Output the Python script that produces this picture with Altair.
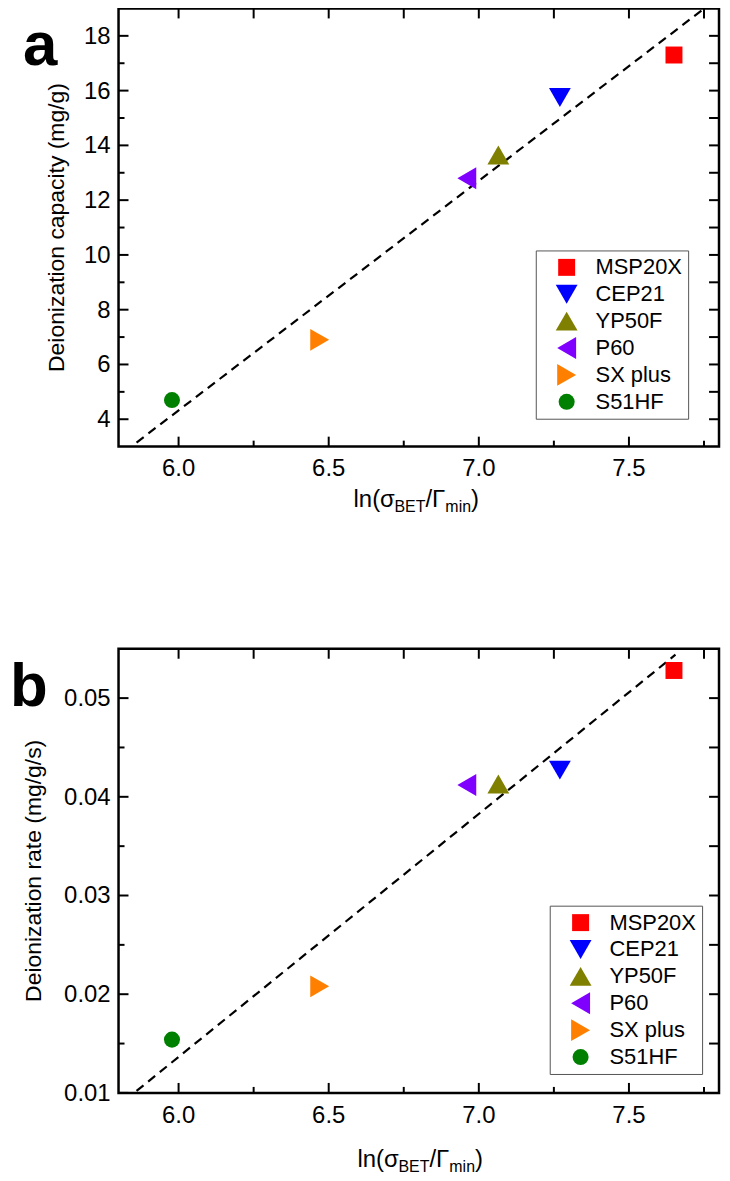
import altair as alt
import pandas as pd

FONT = "Liberation Sans"

# ---- data ----
names = ["MSP20X", "CEP21", "YP50F", "P60", "SX plus", "S51HF"]
colors = ["#ff0000", "#0000ff", "#808000", "#8000ff", "#ff8000", "#008000"]
shapes = ["square", "triangle-down", "triangle-up", "triangle-left", "triangle-right", "circle"]
sizes = [290, 480, 480, 480, 480, 260]

x_vals = [7.65, 7.27, 7.065, 6.96, 6.47, 5.978]
cap_vals = [17.3, 15.75, 13.65, 12.8, 6.9, 4.7]
rate_vals = [0.0528, 0.0427, 0.0413, 0.0412, 0.0208, 0.0154]

fit_a_x = [5.86, 7.745]
fit_a_y = [3.15, 18.95]
fit_b_x = [5.86, 7.655]
fit_b_y = [0.0102, 0.0544]

x_domain = [5.8, 7.8]
x_major = [6.0, 6.5, 7.0, 7.5]
x_minor = [6.25, 6.75, 7.25, 7.75]
x_top = [6.0, 6.25, 6.5, 6.75, 7.0, 7.25, 7.5, 7.75]

a_domain = [3, 19]
a_major = [4, 6, 8, 10, 12, 14, 16, 18]
a_minor = [5, 7, 9, 11, 13, 15, 17]
a_right = [4, 5, 6, 7, 8, 9, 10, 11, 12, 13, 14, 15, 16, 17, 18]

b_domain = [0.01, 0.055]
b_major = [0.01, 0.02, 0.03, 0.04, 0.05]
b_minor = [0.015, 0.025, 0.035, 0.045]
b_right = [0.015, 0.02, 0.025, 0.03, 0.035, 0.04, 0.045, 0.05]

W = 603


def tick_layer(vals, scale, side, length, H):
    df = pd.DataFrame({"v": vals})
    m = alt.Chart(df).mark_rule(color="black", strokeWidth=2)
    if side in ("bottom", "top"):
        enc = dict(x=alt.X("v:Q", scale=scale, axis=None))
        if side == "bottom":
            enc.update(y=alt.value(H), y2=alt.value(H - length))
        else:
            enc.update(y=alt.value(0), y2=alt.value(length))
    else:
        enc = dict(y=alt.Y("v:Q", scale=scale, axis=None))
        if side == "left":
            enc.update(x=alt.value(0), x2=alt.value(length))
        else:
            enc.update(x=alt.value(W), x2=alt.value(W - length))
    return m.encode(**enc)


def xlabel_layer(vals, scale, H, fmt):
    return alt.Chart(pd.DataFrame({"v": vals})).mark_text(
        align="center", baseline="alphabetic", font=FONT, fontSize=24, color="black"
    ).encode(x=alt.X("v:Q", scale=scale, axis=None), y=alt.value(H + 30),
             text=alt.Text("v:Q", format=fmt))


def ylabel_layer(vals, scale, fmt):
    return alt.Chart(pd.DataFrame({"v": vals})).mark_text(
        align="right", baseline="middle", font=FONT, fontSize=24, color="black", dy=1
    ).encode(y=alt.Y("v:Q", scale=scale, axis=None), x=alt.value(-8),
             text=alt.Text("v:Q", format=fmt))


def text_layer(txt, x, y, size, weight="normal", angle=0, align="left"):
    kw = dict(align=align, baseline="alphabetic", font=FONT, fontSize=size,
              fontWeight=weight, color="black")
    if angle:
        kw["angle"] = angle
    return alt.Chart(pd.DataFrame({"d": [0]})).mark_text(**kw).encode(
        x=alt.value(x), y=alt.value(y), text=alt.value(txt))


def xtitle_layers(x0, y0):
    big, small, dy = 24, 16, 5
    pieces = [("ln(σ", big, 0, 1.711), ("BET", small, dy, 1.945),
              ("/Γ", big, 0, 0.834), ("min", small, dy, 1.611), (")", big, 0, 0.333)]
    layers = []
    x = x0
    for t, fs, d, em in pieces:
        layers.append(text_layer(t, x, y0 + d, fs))
        x += em * fs
    return layers


def panel(yvals, ydom, ymaj, ymin, yright, yfmt, ytitle, ytitle_x, fit_x, fit_y, H,
          letter, letter_x, letter_y, title_x, title_y, leg_x, leg_y):
    xs = alt.Scale(domain=x_domain, nice=False, zero=False)
    ys = alt.Scale(domain=ydom, nice=False, zero=False)
    df = pd.DataFrame({"x": x_vals, "y": yvals, "sample": names})
    leg = alt.Legend(
        title=None, orient="none", legendX=leg_x, legendY=leg_y, direction="vertical",
        fillColor="white", strokeColor="#555555", padding=6,
        labelFont=FONT, labelFontSize=22, labelColor="black", labelOffset=18,
        symbolOffset=14, rowPadding=5, symbolStrokeWidth=0, symbolOpacity=1,
    )
    pts = alt.Chart(df).mark_point(filled=True, opacity=1, strokeWidth=0).encode(
        x=alt.X("x:Q", scale=xs, axis=None),
        y=alt.Y("y:Q", scale=ys, axis=None),
        color=alt.Color("sample:N", scale=alt.Scale(domain=names, range=colors), legend=leg),
        shape=alt.Shape("sample:N", scale=alt.Scale(domain=names, range=shapes), legend=leg),
        size=alt.Size("sample:N", scale=alt.Scale(type="ordinal", domain=names, range=sizes), legend=leg),
    )
    line = alt.Chart(pd.DataFrame({"x": fit_x, "y": fit_y})).mark_line(
        color="black", strokeDash=[9, 6], strokeWidth=2.2
    ).encode(x=alt.X("x:Q", scale=xs, axis=None), y=alt.Y("y:Q", scale=ys, axis=None))

    layers = [line, pts,
              tick_layer(x_major, xs, "bottom", 10, H),
              tick_layer(x_minor, xs, "bottom", 6, H),
              tick_layer(x_top, xs, "top", 10, H),
              tick_layer(ymaj, ys, "left", 10, H),
              tick_layer(ymin, ys, "left", 6, H),
              tick_layer(yright, ys, "right", 10, H),
              xlabel_layer(x_major, xs, H, ".1f"),
              ylabel_layer(ymaj, ys, yfmt),
              text_layer(ytitle, ytitle_x, H / 2, 23, angle=270, align="center"),
              text_layer(letter, letter_x, letter_y, 62, "bold")]
    layers += xtitle_layers(title_x, title_y)
    return alt.layer(*layers).properties(width=W, height=H)


Ha = 440
Hb = 446
pa = panel(cap_vals, a_domain, a_major, a_minor, a_right, "d",
           "Deionization capacity (mg/g)", -55, fit_a_x, fit_a_y, Ha,
           "a", -96, 56.5, 236, Ha + 61, 419, 243)
pb = panel(rate_vals, b_domain, b_major, b_minor, b_right, ".2f",
           "Deionization rate (mg/g/s)", -78, fit_b_x, fit_b_y, Hb,
           "b", -109, 57, 240, Hb + 74, 433, 258)

chart = alt.vconcat(pa, pb, spacing=203, bounds="flush").resolve_scale(
    color="independent", shape="independent", size="independent"
).properties(
    padding={"left": 0, "top": -7, "right": 0, "bottom": 0}
).configure_view(stroke="black", strokeWidth=2.5)

chart.save("out.html", embed_options={"renderer": "svg", "actions": False})
